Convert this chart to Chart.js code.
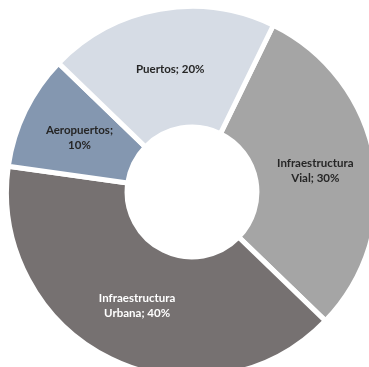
<!DOCTYPE html>
<html>
<head>
<meta charset="utf-8">
<script src="https://cdn.jsdelivr.net/npm/chart.js@4.4.1/dist/chart.umd.min.js"></script>
<style>
  html, body { margin: 0; padding: 0; background: #fff; overflow: hidden; }
  #wrap { position: absolute; left: 0; top: 0; width: 384px; height: 384px; }
</style>
</head>
<body>
<div id="wrap"><canvas id="chart"></canvas></div>
<script>
// inversión por sector
const categories = ['Infraestructura Vial', 'Infraestructura Urbana', 'Aeropuertos', 'Puertos'];
const shares = [30, 40, 10, 20];
const sliceColors = ['#a5a5a5', '#767171', '#8497b0', '#d6dce5'];
const labelColors = ['#262626', '#ffffff', '#262626', '#262626'];

// etiquetas "Categoría; xx%" dentro de cada sector
const sliceLabels = {
  id: 'sliceLabels',
  afterDatasetsDraw(chart) {
    const ctx = chart.ctx;
    const meta = chart.getDatasetMeta(0);
    ctx.save();
    ctx.font = 'bold 11.5px Lato';
    ctx.textAlign = 'center';
    ctx.textBaseline = 'middle';
    meta.data.forEach((arc, i) => {
      const text = categories[i] + '; ' + shares[i] + '%';
      const words = text.split(' ');
      const lines = [];
      let cur = '';
      words.forEach(w => {
        const test = cur ? cur + ' ' + w : w;
        if (cur && ctx.measureText(test).width > 84) {
          lines.push(cur);
          cur = w;
        } else {
          cur = test;
        }
      });
      lines.push(cur);
      const p = arc.getCenterPoint();
      const lh = 15;
      ctx.fillStyle = labelColors[i];
      lines.forEach((ln, k) => {
        ctx.fillText(ln, p.x, p.y + 1 + (k - (lines.length - 1) / 2) * lh);
      });
    });
    ctx.restore();
  }
};

new Chart(document.getElementById('chart'), {
  type: 'doughnut',
  data: {
    labels: categories,
    datasets: [{
      data: shares,
      backgroundColor: sliceColors,
      borderColor: '#ffffff',
      borderWidth: 5,
      hoverOffset: 0
    }]
  },
  options: {
    responsive: true,
    maintainAspectRatio: false,
    animation: false,
    rotation: 26,
    cutout: '35%',
    layout: { padding: 4 },
    plugins: {
      legend: { display: false },
      tooltip: { enabled: false }
    }
  },
  plugins: [sliceLabels]
});
</script>
</body>
</html>
